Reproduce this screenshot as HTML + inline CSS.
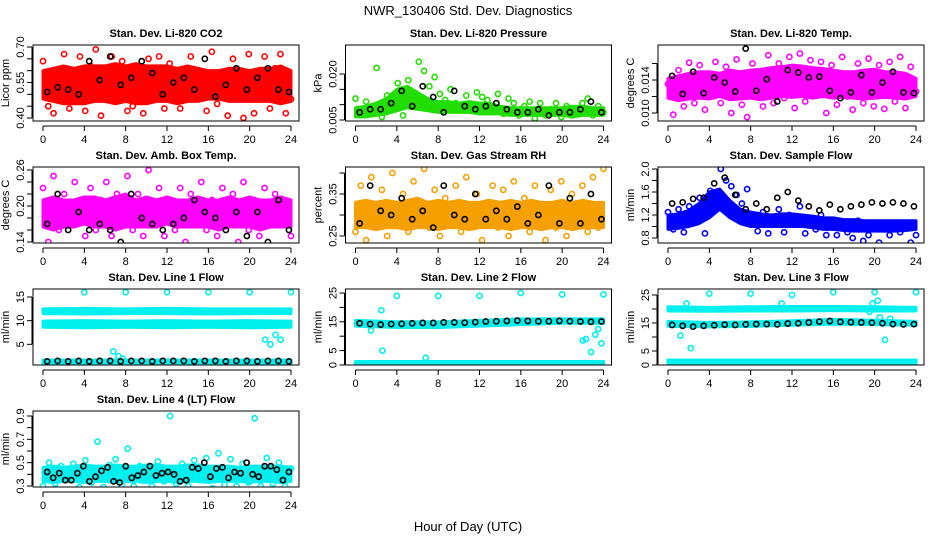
<!DOCTYPE html>
<html><head><meta charset="utf-8">
<style>
html,body{margin:0;padding:0;background:#fff;}
svg{display:block;font-family:"Liberation Sans",Arial,sans-serif;}
</style></head>
<body>
<svg id="chart" width="936" height="540" viewBox="0 0 936 540" xmlns="http://www.w3.org/2000/svg">
<text x="468" y="15" text-anchor="middle" font-size="13">NWR_130406  Std. Dev. Diagnostics</text>
<text x="468" y="531" text-anchor="middle" font-size="13">Hour of Day (UTC)</text>
<g id="panels"></g>
</svg>
<script>
// ---------- data ----------
const xTicks=[0,4,8,12,16,20,24];
// CO2
const co2Lo=[.48,.47,.46,.46,.46,.47,.47,.46,.47,.46,.46,.47,.47,.46,.47,.47,.48,.48,.47,.47,.47,.47,.47,.46,.47];
const co2Hi=[.60,.61,.62,.61,.62,.62,.62,.63,.62,.63,.62,.62,.62,.61,.62,.61,.60,.60,.61,.61,.60,.61,.61,.62,.60];
const co2Pts=[.64,.45,.42,.58,.67,.44,.53,.66,.43,.62,.69,.41,.55,.66,.49,.64,.43,.45,.59,.42,.65,.56,.66,.44,.63,.52,.44,.61,.66,.48,.52,.43,.68,.46,.57,.41,.65,.59,.40,.67,.42,.58,.66,.44,.61,.67,.42,.48];
const co2Blk=[.51,.53,.52,.50,.64,.56,.66,.54,.57,.64,.59,.50,.55,.57,.52,.65,.49,.54,.61,.52,.57,.61,.52,.51];
const co2Ticks=[.40,.45,.50,.55,.60,.65,.70];
const co2Labels=["0.40","","","0.55","","","0.70"];
// Pressure
const prLo=[.006,.006,.0065,.007,.008,.009,.0085,.008,.0075,.0075,.0075,.0075,.007,.007,.007,.0065,.0065,.0065,.0065,.0065,.0065,.006,.0065,.0065,.0065];
const prHi=[.009,.0095,.0105,.012,.015,.016,.014,.012,.011,.011,.0105,.011,.0105,.0105,.0095,.009,.009,.009,.009,.009,.009,.0095,.0095,.009,.009];
const prPts=[.012,.0085,.011,.0075,.022,.006,.013,.0095,.017,.0065,.018,.014,.024,.021,.016,.019,.0135,.0115,.015,.0105,.0085,.013,.0095,.014,.0125,.0115,.0085,.0135,.007,.012,.0105,.0065,.0095,.011,.0055,.0105,.0065,.0085,.0105,.006,.0095,.0065,.0075,.0105,.012,.0065,.0095,.0075];
const prBlk=[.0075,.0085,.0085,.0105,.0145,.0095,.016,.0125,.0075,.0145,.0095,.0085,.0095,.0105,.0085,.0075,.0075,.0085,.0065,.0075,.0075,.0085,.011,.0075];
const prTicks=[.005,.010,.015,.020];
const prLabels=["0.005","","","0.020"];
// Li-820 Temp
const ltLo=[.0118,.0115,.0117,.0118,.0117,.0120,.0116,.0117,.0118,.0116,.0118,.0120,.0119,.0120,.0118,.0120,.0118,.0119,.0118,.0117,.0118,.0119,.0118,.0117,.0120];
const ltHi=[.0142,.0145,.0148,.0150,.0150,.0148,.0152,.0150,.0152,.0153,.0155,.0156,.0158,.0157,.0155,.0154,.0152,.0150,.0150,.0152,.0153,.0150,.0150,.0148,.0142];
const ltPts=[.0135,.0098,.0152,.0108,.0161,.0112,.0158,.0104,.0128,.0162,.0112,.0156,.0100,.0165,.0110,.0095,.0160,.0138,.0108,.0170,.0112,.0160,.0118,.0168,.0106,.0172,.0114,.0164,.0122,.0162,.0100,.0158,.0110,.0168,.0120,.0104,.0160,.0112,.0166,.0108,.0158,.0105,.0162,.0114,.0168,.0106,.0156,.0126];
const ltBlk=[.0145,.0123,.0150,.0124,.0143,.0137,.0126,.0178,.0127,.0141,.0114,.0152,.0149,.0143,.0144,.0127,.0118,.0125,.0146,.0125,.0137,.0150,.0125,.0124];
const ltTicks=[.010,.012,.014,.016];
const ltLabels=["0.010","","0.014",""];
// Amb box temp
const abLo=[.165,.16,.165,.165,.17,.165,.165,.16,.165,.165,.165,.165,.17,.165,.165,.165,.165,.16,.165,.165,.165,.16,.165,.165,.165];
const abHi=[.21,.215,.21,.21,.215,.215,.21,.215,.22,.21,.215,.21,.215,.21,.21,.215,.21,.21,.215,.21,.215,.21,.21,.215,.21];
const abPts=[.23,.14,.25,.16,.22,.13,.24,.18,.15,.23,.16,.21,.24,.15,.22,.17,.25,.16,.22,.15,.26,.17,.23,.15,.21,.16,.23,.14,.22,.18,.24,.16,.21,.15,.23,.17,.22,.14,.24,.16,.21,.15,.23,.13,.22,.17,.20,.15];
const abBlk=[.17,.22,.16,.19,.16,.17,.16,.14,.22,.18,.17,.16,.17,.18,.21,.19,.18,.16,.19,.15,.19,.14,.21,.16];
const abTicks=[.14,.16,.18,.20,.22,.24,.26];
const abLabels=["0.14","","","0.20","","","0.26"];
// Gas stream RH
const rhLo=[.27,.27,.265,.27,.27,.265,.27,.27,.265,.27,.27,.265,.27,.27,.27,.265,.27,.27,.265,.27,.27,.265,.27,.27,.27];
const rhHi=[.33,.335,.33,.335,.33,.335,.34,.33,.335,.33,.335,.33,.33,.335,.33,.335,.33,.335,.33,.33,.335,.33,.335,.33,.33];
const rhPts=[.26,.37,.24,.39,.29,.36,.25,.40,.28,.35,.26,.38,.31,.41,.27,.36,.25,.34,.29,.37,.26,.39,.28,.35,.24,.33,.37,.27,.36,.25,.38,.28,.34,.26,.37,.29,.24,.36,.27,.38,.25,.35,.28,.37,.26,.39,.27,.41];
const rhBlk=[.28,.37,.31,.30,.34,.29,.31,.27,.37,.30,.29,.35,.29,.31,.29,.32,.28,.30,.37,.28,.34,.28,.35,.29];
const rhTicks=[.25,.30,.35,.40];
const rhLabels=["0.25","","0.35",""];
// Sample flow
const sfLo=[.95,.97,1.0,1.05,1.15,1.3,1.15,1.05,1.0,1.0,1.0,1.0,1.0,1.0,.98,.95,.95,.93,.92,.92,.92,.92,.92,.93,.95];
const sfHi=[1.2,1.22,1.28,1.4,1.6,1.65,1.45,1.3,1.25,1.22,1.2,1.22,1.22,1.2,1.18,1.15,1.15,1.12,1.12,1.1,1.1,1.1,1.1,1.1,1.1];
const sfPts=[1.25,.95,1.3,.9,1.35,1.2,1.5,.88,1.62,1.45,2.0,1.8,1.7,1.55,1.4,1.65,1.1,.92,1.25,.88,1.15,1.3,.9,1.2,1.05,1.35,.88,1.15,.95,1.2,.85,1.1,.85,1.05,.9,.8,1.1,.75,.85,1.0,.72,.95,.85,1.05,.9,1.0,.72,.85];
const sfBlk=[1.4,1.42,1.48,1.5,1.75,1.85,1.55,1.3,1.4,1.3,1.5,1.6,1.45,1.35,1.28,1.38,1.3,1.35,1.38,1.42,1.4,1.42,1.4,1.35];
const sfTicks=[.8,1.0,1.2,1.4,1.6,1.8,2.0];
const sfLabels=["0.8","","1.2","","1.6","","2.0"];
// Line 1 flow
const l1LoA=[11.5,11.4,11.5,11.5,11.4,11.5,11.5], l1HiA=[12.5,12.6,12.5,12.6,12.5,12.5,12.5];
const l1LoB=[8.6,8.5,8.6,8.5,8.6,8.5,8.6], l1HiB=[9.9,10,9.9,10,9.9,10,9.9];
const l1LoC=[0.9,0.9,0.9,0.9,0.9,0.9,0.9], l1HiC=[1.7,1.7,1.7,1.7,1.7,1.7,1.7];
const l1OutH=[4,6.8,7.3,7.7,8,12,16,20,21.5,22,22.5,23,24];
const l1OutV=[16,3.5,2.5,2,16,16,16,16,6,5,7,6,16];
const l1Blk=[1.4,1.5,1.4,1.5,1.4,1.5,1.5,1.4,1.5,1.5,1.4,1.5,1.5,1.5,1.4,1.5,1.5,1.4,1.5,1.5,1.4,1.5,1.5,1.4];
const l1Ticks=[5,10,15];
const l1Labels=["5","10","15"];
// Line 2 flow
const l2LoA=[13.5,13,13,13.5,14,14.5,14.5], l2HiA=[15.5,15,15,15.5,16,16,16];
const l2LoC=[0,0,0,0,0,0,0], l2HiC=[1.2,1.2,1.2,1.2,1.2,1.2,1.2];
const l2OutH=[1.5,2.5,2.6,4,6.8,8,12,16,20,22,22.3,22.8,23.2,23.5,23.8,24];
const l2OutV=[12,19,5,24,2.5,24,24,25,24.5,8.5,9,4.5,10.5,12.5,7.5,24.5];
const l2Blk=[14.5,14.2,14,14.2,14.3,14.5,14.6,14.6,14.8,14.8,14.7,14.9,15.1,15.2,15.3,15.4,15.3,15.2,15.2,15.3,15.2,15.1,15,15.1];
const l2Ticks=[0,5,10,15,20,25];
const l2Labels=["0","5","","15","","25"];
// Line 3 flow
const l3LoA=[19.3,19.2,19.3,19.3,19.4,19.3,19.3], l3HiA=[20.8,20.6,20.8,20.9,20.9,20.8,20.6];
const l3LoB=[13.8,13.6,13.8,14.2,14.6,14.4,14.2], l3HiB=[15.6,15.2,15.4,15.8,16.3,16,15.6];
const l3LoC=[0.4,0.4,0.4,0.4,0.4,0.4,0.4], l3HiC=[1.8,1.8,1.8,1.8,1.8,1.8,1.8];
const l3OutH=[1.2,1.8,2.2,4,8,11,12,16,19.5,19.8,20,20.3,20.5,21,21.5,24];
const l3OutV=[10.5,22,6,25.5,25.5,22,25,26,19,22,26,23,17,9,16.5,26];
const l3Blk=[14.3,14,13.7,14,14.2,14.4,14.3,14.5,14.6,14.6,14.5,14.8,14.9,15.2,15.5,15.7,15.4,15.3,15.2,15.1,14.9,14.6,14.5,14.6];
const l3Ticks=[0,5,10,15,20,25];
const l3Labels=["0","5","","15","","25"];
// Line 4 (LT) flow
const l4Lo=[.34,.33,.34,.34,.33,.34,.34,.33,.34,.34,.33,.34,.34,.33,.34,.34,.33,.34,.34,.34,.33,.34,.34,.33,.34];
const l4Hi=[.46,.47,.46,.47,.48,.47,.47,.48,.47,.47,.48,.48,.47,.47,.48,.48,.47,.47,.47,.46,.47,.47,.47,.47,.46];
const l4Pts=[.30,.50,.32,.47,.36,.49,.29,.52,.33,.68,.29,.48,.53,.31,.62,.30,.47,.35,.30,.51,.34,.90,.32,.49,.30,.52,.35,.54,.28,.58,.31,.53,.30,.49,.33,.88,.30,.54,.32,.50,.30,.45];
const l4Blk=[.42,.37,.41,.35,.35,.41,.47,.34,.38,.43,.46,.34,.33,.47,.37,.39,.42,.47,.39,.41,.42,.40,.34,.35,.46,.45,.50,.38,.45,.46,.37,.42,.41,.50,.40,.38,.47,.47,.44,.35,.42];
const l4Ticks=[.3,.4,.5,.6,.7,.8,.9];
const l4Labels=["0.3","","0.5","","0.7","","0.9"];

// ---------- drawing ----------
const NS="http://www.w3.org/2000/svg";
const root=document.getElementById('panels');
function el(tag,parent){const e=document.createElementNS(NS,tag);parent.appendChild(e);return e;}

const panels=[
 {name:"co2",title:"Stan. Dev. Li-820 CO2",ylab:"Licor ppm",row:0,col:0,vA:.40,pA:118,vB:.70,pB:47,col1:"#ff0000",bands:[[co2Lo,co2Hi]],pts:co2Pts,blk:co2Blk,ticks:co2Ticks,labels:co2Labels},
 {name:"pressure",title:"Stan. Dev. Li-820 Pressure",ylab:"kPa",row:0,col:1,vA:.005,pA:120,vB:.020,pB:74,col1:"#22dd00",bands:[[prLo,prHi]],pts:prPts,blk:prBlk,ticks:prTicks,labels:prLabels},
 {name:"li820-temp",title:"Stan. Dev. Li-820 Temp.",ylab:"degrees C",row:0,col:2,vA:.010,pA:113,vB:.014,pB:80,col1:"#ff00ff",bands:[[ltLo,ltHi]],pts:ltPts,blk:ltBlk,ticks:ltTicks,labels:ltLabels},
 {name:"amb-box-temp",title:"Stan. Dev. Amb. Box Temp.",ylab:"degrees C",row:1,col:0,vA:.14,pA:242,vB:.26,pB:170,col1:"#ff00ff",bands:[[abLo,abHi]],pts:abPts,blk:abBlk,ticks:abTicks,labels:abLabels},
 {name:"gas-stream-rh",title:"Stan. Dev. Gas Stream RH",ylab:"percent",row:1,col:1,vA:.25,pA:236,vB:.35,pB:194,col1:"#f5a000",bands:[[rhLo,rhHi]],pts:rhPts,blk:rhBlk,ticks:rhTicks,labels:rhLabels},
 {name:"sample-flow",title:"Stan. Dev. Sample Flow",ylab:"ml/min",row:1,col:2,vA:.8,pA:238,vB:2.0,pB:169,col1:"#0000ff",bands:[[sfLo,sfHi]],pts:sfPts,blk:sfBlk,ticks:sfTicks,labels:sfLabels},
 {name:"line1-flow",title:"Stan. Dev. Line 1 Flow",ylab:"ml/min",row:2,col:0,vA:0,pA:368,vB:15,pB:297,col1:"#00f0f0",bands:[[l1LoA,l1HiA],[l1LoB,l1HiB],[l1LoC,l1HiC]],outH:l1OutH,outV:l1OutV,blk:l1Blk,ticks:l1Ticks,labels:l1Labels},
 {name:"line2-flow",title:"Stan. Dev. Line 2 Flow",ylab:"ml/min",row:2,col:1,vA:0,pA:365,vB:25,pB:293,col1:"#00f0f0",bands:[[l2LoA,l2HiA],[l2LoC,l2HiC]],outH:l2OutH,outV:l2OutV,blk:l2Blk,ticks:l2Ticks,labels:l2Labels},
 {name:"line3-flow",title:"Stan. Dev. Line 3 Flow",ylab:"ml/min",row:2,col:2,vA:0,pA:365,vB:25,pB:295,col1:"#00f0f0",bands:[[l3LoA,l3HiA],[l3LoB,l3HiB],[l3LoC,l3HiC]],outH:l3OutH,outV:l3OutV,blk:l3Blk,ticks:l3Ticks,labels:l3Labels},
 {name:"line4-flow",title:"Stan. Dev. Line 4 (LT) Flow",ylab:"ml/min",row:3,col:0,vA:.3,pA:486,vB:.9,pB:416,col1:"#00f0f0",bands:[[l4Lo,l4Hi]],pts:l4Pts,blk:l4Blk,ticks:l4Ticks,labels:l4Labels}
];

panels.forEach(p=>{
  const bl=33+312.5*p.col, bt=45+122*p.row, bw=266, bh=76;
  const x0=43+312.5*p.col, xs=248/24;
  const X=h=>x0+h*xs;
  const Y=v=>p.pA+(v-p.vA)*(p.pB-p.pA)/(p.vB-p.vA);
  const g=el('g',root);
  
  
  const clip=el('clipPath',g); clip.setAttribute('id','clip-'+p.name);
  const cr=el('rect',clip); cr.setAttribute('x',bl);cr.setAttribute('y',bt);cr.setAttribute('width',bw);cr.setAttribute('height',bh);
  const t=el('text',g);
  
  
  t.setAttribute('x',bl+bw/2);t.setAttribute('y',bt-8);t.setAttribute('text-anchor','middle');
  t.setAttribute('font-size','11');t.setAttribute('font-weight','bold');t.textContent=p.title;
  const yl=el('text',g);
  
  
  const ylx=bl-24, yly=bt+bh/2;
  yl.setAttribute('x',ylx);yl.setAttribute('y',yly);yl.setAttribute('text-anchor','middle');
  yl.setAttribute('font-size','11');yl.setAttribute('transform','rotate(-90 '+ylx+' '+yly+')');yl.textContent=p.ylab;
  const dg=el('g',g); dg.setAttribute('clip-path','url(#clip-'+p.name+')');
  
  
  p.bands.forEach(b=>{
    const lo=b[0],hi=b[1],n=lo.length;let pts=[];
    for(let i=0;i<n;i++)pts.push(X(24*i/(n-1))+','+Y(hi[i]));
    for(let i=n-1;i>=0;i--)pts.push(X(24*i/(n-1))+','+Y(lo[i]));
    const pg=el('polygon',dg);
    
    
    pg.setAttribute('points',pts.join(' '));pg.setAttribute('fill',p.col1);pg.setAttribute('stroke',p.col1);pg.setAttribute('stroke-width','3');pg.setAttribute('stroke-linejoin','round');
  });
  function pt(h,v,c,name){
    const c1=el('circle',dg);
    
    
    c1.setAttribute('cx',X(h));c1.setAttribute('cy',Y(v));c1.setAttribute('r','2.6');
    c1.setAttribute('fill','none');c1.setAttribute('stroke',c);c1.setAttribute('stroke-width','1.6');
  }
  if(p.pts){const n=p.pts.length;p.pts.forEach((v,i)=>pt(24*i/(n-1),v,p.col1,'scatter-point'));}
  if(p.outH){p.outH.forEach((h,i)=>pt(h,p.outV[i],p.col1,'outlier-point'));}
  {const n=p.blk.length;p.blk.forEach((v,i)=>pt(0.4+23.4*i/(n-1),v,'#000','black-point'));}
  const bx=el('rect',g);
  
  
  bx.setAttribute('x',bl);bx.setAttribute('y',bt);bx.setAttribute('width',bw);bx.setAttribute('height',bh);
  bx.setAttribute('fill','none');bx.setAttribute('stroke','#000');bx.setAttribute('stroke-width','1');
  const ax=el('g',g);
  
  
  const ay=bt+bh+5;
  const al=el('line',ax);al.setAttribute('x1',X(0));al.setAttribute('x2',X(24));al.setAttribute('y1',ay);al.setAttribute('y2',ay);al.setAttribute('stroke','#000');
  xTicks.forEach(h=>{
    const tl=el('line',ax);tl.setAttribute('x1',X(h));tl.setAttribute('x2',X(h));tl.setAttribute('y1',ay);tl.setAttribute('y2',ay+5);tl.setAttribute('stroke','#000');
    const tx=el('text',ax);
    
    
    tx.setAttribute('x',X(h));tx.setAttribute('y',ay+17);tx.setAttribute('text-anchor','middle');tx.setAttribute('font-size','11');tx.textContent=String(h);
  });
  const yg=el('g',g);
  
  
  const yx=bl-1;
  const yline=el('line',yg);yline.setAttribute('x1',yx);yline.setAttribute('x2',yx);yline.setAttribute('y1',Y(p.ticks[0]));yline.setAttribute('y2',Y(p.ticks[p.ticks.length-1]));yline.setAttribute('stroke','#000');
  p.ticks.forEach((v,i)=>{
    const tl=el('line',yg);tl.setAttribute('x1',yx-5);tl.setAttribute('x2',yx);tl.setAttribute('y1',Y(v));tl.setAttribute('y2',Y(v));tl.setAttribute('stroke','#000');
    if(p.labels[i]){
      const tx=el('text',yg);
      
      
      const lx=yx-8,ly=Y(v);
      tx.setAttribute('x',lx);tx.setAttribute('y',ly);tx.setAttribute('text-anchor','middle');tx.setAttribute('font-size','11');
      tx.setAttribute('transform','rotate(-90 '+lx+' '+ly+')');tx.textContent=p.labels[i];
    }
  });
});
</script>
</body></html>
